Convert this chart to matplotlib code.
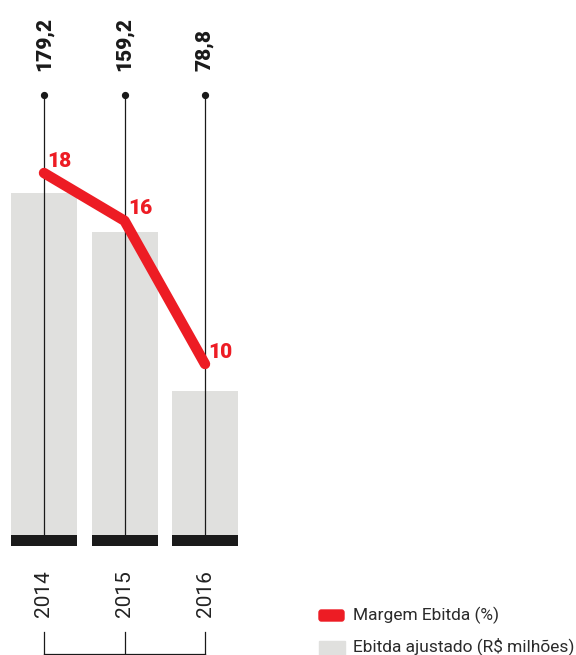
import matplotlib
matplotlib.use("Agg")
import matplotlib.pyplot as plt
from matplotlib.patches import FancyBboxPatch, Rectangle

years = ["2014", "2015", "2016"]
ebitda = [179.2, 159.2, 78.8]
ebitda_labels = ["179,2", "159,2", "78,8"]
margem = [18, 16, 10]

RED = "#ED1C24"
GRAY = "#E0E0DE"
W, H = 576, 655

fig = plt.figure(figsize=(W / 100, H / 100), dpi=100)
ax = fig.add_axes([0, 0, 1, 1])
ax.set_axis_off()

# x: category index; pixel 44 -> 0, spacing 80.5 px
xs = list(range(len(years)))
step = 80.5
ax.set_xlim(-44 / step, (W - 44) / step)
# y: bars, baseline at pixel 546, 1.97 px per unit
sc = 1.97
base_px = 546
ax.set_ylim(-(H - base_px) / sc, base_px / sc)

ax.bar(xs, ebitda, width=66 / step, color=GRAY, zorder=1)
ax.bar(xs, [11 / sc] * 3, width=66 / step, color="#1a1a1a", zorder=2)

def fy(px):
    return 1 - px / H

xt = ax.get_xaxis_transform()
for x, lab in zip(xs, ebitda_labels):
    ax.plot([x, x], [fy(95), fy(540)], transform=xt, color="#1a1a1a", lw=0.9, zorder=3)
    ax.plot([x], [fy(95)], transform=xt, marker="o", ms=4.2, color="#1a1a1a", zorder=3)
    ax.text(x, fy(71), lab, transform=xt, rotation=90, ha="center", va="bottom",
            family="Roboto", fontweight="black", fontsize=15, color="#1a1a1a")

for x, y in zip(xs, years):
    ax.text(x, fy(594), y, transform=xt, rotation=90, ha="center", va="center",
            family="Roboto", fontweight="normal", fontsize=15, color="#222222")

# bracket
for x in xs:
    ax.plot([x, x], [fy(632), fy(654)], transform=xt, color="#1a1a1a", lw=0.9)
ax.plot([xs[0], xs[-1]], [fy(654), fy(654)], transform=xt, color="#1a1a1a", lw=0.9)

# margin line on twin axis
ax2 = ax.twinx()
ax2.set_axis_off()
ms = 23.875
ax2.set_ylim(18 - (H - 173) / ms, 18 + 173 / ms)
ax2.plot(xs, margem, color=RED, lw=7.5, solid_capstyle="round", solid_joinstyle="round", zorder=5)
for x, m in zip(xs, margem):
    ax2.annotate(str(m), (x, m), xytext=(2.5, 4.5), textcoords="offset points",
                 ha="left", va="baseline", color=RED, family="Roboto",
                 fontweight="black", fontsize=15)

# legend
fig.patches.append(FancyBboxPatch((319 / W, fy(621)), 25 / W, 11 / H,
                                  boxstyle="round,pad=0,rounding_size=0.004",
                                  transform=fig.transFigure, color=RED))
fig.patches.append(Rectangle((319 / W, fy(655)), 26 / W, 14 / H,
                             transform=fig.transFigure, color=GRAY))
fig.text(353 / W, fy(615), "Margem Ebitda (%)", ha="left", va="center",
         family="Roboto", fontsize=12.5, color="#2b2b2b")
fig.text(353 / W, fy(646), "Ebitda ajustado (R$ milhões)", ha="left", va="center",
         family="Roboto", fontsize=12.5, color="#2b2b2b")

fig.savefig("out.png", dpi=100)
